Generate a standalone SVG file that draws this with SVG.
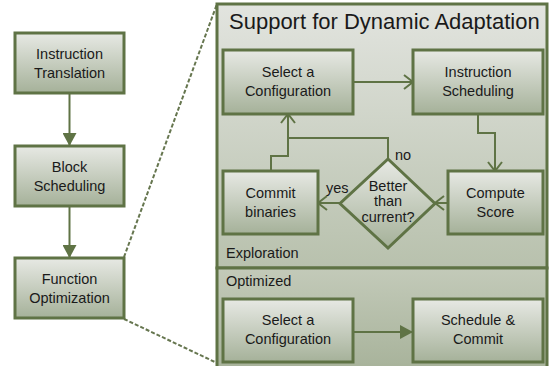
<svg xmlns="http://www.w3.org/2000/svg" width="553" height="366" viewBox="0 0 553 366">
<defs>
<linearGradient id="boxg" x1="0" y1="0" x2="0" y2="1">
<stop offset="0" stop-color="#e7e9e4"/>
<stop offset="1" stop-color="#a5b199"/>
</linearGradient>
<linearGradient id="panelTop" x1="0" y1="0" x2="0" y2="1">
<stop offset="0" stop-color="#e2e4df"/>
<stop offset="1" stop-color="#b8c1ad"/>
</linearGradient>
<linearGradient id="panelBot" x1="0" y1="0" x2="0" y2="1">
<stop offset="0" stop-color="#c3cab9"/>
<stop offset="1" stop-color="#a8b39b"/>
</linearGradient>
<marker id="tri" markerUnits="userSpaceOnUse" markerWidth="14" markerHeight="14" viewBox="0 0 14 14" refX="13" refY="7" orient="auto">
<path d="M0,0 L13,7 L0,14 Z" fill="#5f7345"/>
</marker>
<marker id="vee" markerUnits="userSpaceOnUse" markerWidth="14" markerHeight="16" viewBox="0 0 14 16" refX="12" refY="8" orient="auto">
<path d="M3,1 L12,8 L3,15" fill="none" stroke="#5f7345" stroke-width="2"/>
</marker>
</defs>
<style>
.box{fill:url(#boxg);stroke:#5f7345;stroke-width:3}
.t{font-family:"Liberation Sans",Arial,sans-serif;font-size:14.5px;fill:#1a1a1a;text-anchor:middle}
.lbl{font-family:"Liberation Sans",Arial,sans-serif;font-size:14.5px;fill:#1a1a1a}
.c{fill:none;stroke:#5f7345;stroke-width:2}
.dash{fill:none;stroke:#66764f;stroke-width:2;stroke-dasharray:4 2}
</style>

<g id="zoom-lines">
<path class="dash" d="M124,257 L217,4"/>
<path class="dash" d="M124,319 L217,363"/>
</g>

<g id="panel">
<rect x="217" y="4" width="330" height="264" fill="url(#panelTop)" stroke="#5f7345" stroke-width="3"/>
<rect x="217" y="268" width="330" height="100" fill="url(#panelBot)" stroke="#5f7345" stroke-width="3"/>
<text x="229" y="29" font-family="'Liberation Sans',Arial,sans-serif" font-size="22" fill="#1a1a1a">Support for Dynamic Adaptation</text>
<text class="lbl" x="226" y="258">Exploration</text>
<text class="lbl" x="226" y="286">Optimized</text>
</g>

<g id="connectors">
<path class="c" d="M69.5,93 L69.5,146" marker-end="url(#tri)"/>
<path class="c" d="M69.5,206 L69.5,258" marker-end="url(#tri)"/>
<path class="c" d="M353,82 L413,82" marker-end="url(#vee)"/>
<path class="c" d="M478,114 L478,133 L495,133 L495,171" marker-end="url(#vee)"/>
<path class="c" d="M448,203 L435,203" marker-end="url(#vee)"/>
<path class="c" d="M340,203 L318,203" marker-end="url(#vee)"/>
<path class="c" d="M388,159 L388,138 L288,138 L288,114" marker-end="url(#vee)"/>
<path class="c" d="M271,171 L271,156 L288,156 L288,138"/>
<path class="c" d="M353,332 L413,332" marker-end="url(#tri)"/>
<text class="lbl" x="326" y="193">yes</text>
<text class="lbl" x="395" y="160">no</text>
</g>

<g id="instruction-translation">
<rect class="box" x="15" y="33" width="109" height="60"/>
<text class="t" x="69.5" y="59">Instruction</text>
<text class="t" x="69.5" y="78">Translation</text>
</g>
<g id="block-scheduling">
<rect class="box" x="15" y="146" width="109" height="60"/>
<text class="t" x="69.5" y="172">Block</text>
<text class="t" x="69.5" y="191">Scheduling</text>
</g>
<g id="function-optimization">
<rect class="box" x="15" y="258" width="109" height="60"/>
<text class="t" x="69.5" y="284">Function</text>
<text class="t" x="69.5" y="303">Optimization</text>
</g>

<g id="select-config-1">
<rect class="box" x="223" y="50" width="130" height="64"/>
<text class="t" x="288" y="77">Select a</text>
<text class="t" x="288" y="96">Configuration</text>
</g>
<g id="instruction-scheduling">
<rect class="box" x="413" y="50" width="130" height="64"/>
<text class="t" x="478" y="77">Instruction</text>
<text class="t" x="478" y="96">Scheduling</text>
</g>
<g id="commit-binaries">
<rect class="box" x="223" y="171" width="95" height="63"/>
<text class="t" x="270.5" y="198">Commit</text>
<text class="t" x="270.5" y="217">binaries</text>
</g>
<g id="compute-score">
<rect class="box" x="448" y="171" width="95" height="63"/>
<text class="t" x="495.5" y="198">Compute</text>
<text class="t" x="495.5" y="217">Score</text>
</g>
<g id="better-than-current">
<polygon points="388,159 435,203.5 388,248 340,203.5" fill="url(#boxg)" stroke="#5f7345" stroke-width="3"/>
<text class="t" x="388" y="191">Better</text>
<text class="t" x="388" y="206">than</text>
<text class="t" x="388" y="222">current?</text>
</g>

<g id="select-config-2">
<rect class="box" x="223" y="299" width="130" height="63"/>
<text class="t" x="288" y="325">Select a</text>
<text class="t" x="288" y="344">Configuration</text>
</g>
<g id="schedule-commit">
<rect class="box" x="413" y="299" width="130" height="63"/>
<text class="t" x="478" y="325">Schedule &amp;</text>
<text class="t" x="478" y="344">Commit</text>
</g>
</svg>
